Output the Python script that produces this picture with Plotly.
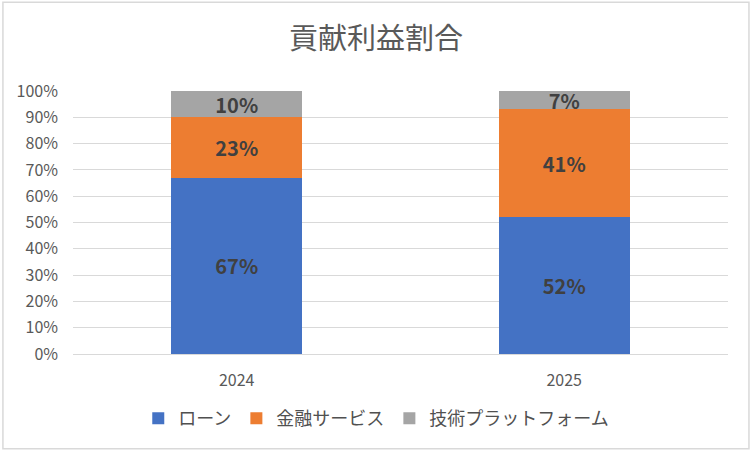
import plotly.graph_objects as go

years = ["2024", "2025"]
loan = [67, 52]
finance = [23, 41]
tech = [10, 7]
series_names = ["ローン", "金融サービス", "技術プラットフォーム"]
colors = ["#4472C4", "#ED7D31", "#A5A5A5"]

font = "Noto Sans CJK JP"

fig = go.Figure()
for name, vals, col in zip(series_names, [loan, finance, tech], colors):
    fig.add_trace(go.Bar(
        x=years, y=vals, name=name, marker_color=col, marker_line_width=0,
        text=[f"{v}%" for v in vals], textposition="inside",
        insidetextanchor="middle", textangle=0, constraintext="none",
        textfont=dict(family=font, size=20, color="#404040", weight="bold"),
        hoverinfo="skip",
    ))

fig.update_layout(
    barmode="stack",
    bargap=0.6,
    width=752, height=452,
    margin=dict(l=73, r=24, t=91, b=98),
    paper_bgcolor="white", plot_bgcolor="white",
    uniformtext=dict(minsize=20, mode="show"),
    title=dict(text="貢献利益割合", x=0.5, xanchor="center", y=0.913, yanchor="middle",
               font=dict(family=font, size=29, color="#595959")),
    legend=dict(orientation="h", x=0.463, xanchor="center", y=-0.245, yanchor="middle",
                font=dict(family=font, size=18, color="#505050"),
                itemwidth=30, traceorder="normal"),
    font=dict(family=font),
    shapes=[dict(type="rect", xref="paper", yref="paper",
                 x0=-0.107, x1=1.032, y0=-0.36, y1=1.337,
                 line=dict(color="#D9D9D9", width=1.5), layer="below")],
)
fig.update_yaxes(range=[0, 100], dtick=10, ticksuffix="%", showgrid=True,
                 gridcolor="#D9D9D9", gridwidth=1, zeroline=False, showline=False,
                 tickfont=dict(family=font, size=16, color="#595959"), ticks="",
                 ticklabelstandoff=14, fixedrange=True)
fig.update_xaxes(showline=True, linecolor="#D9D9D9", linewidth=1, ticks="",
                 tickfont=dict(family=font, size=16, color="#595959"),
                 ticklabelstandoff=12, fixedrange=True)

# page body has an 8px default margin, drop it so the chart sits at 0,0
fig.write_html("out.html", post_script="document.body.style.margin='0';",
               config={"displayModeBar": False})
